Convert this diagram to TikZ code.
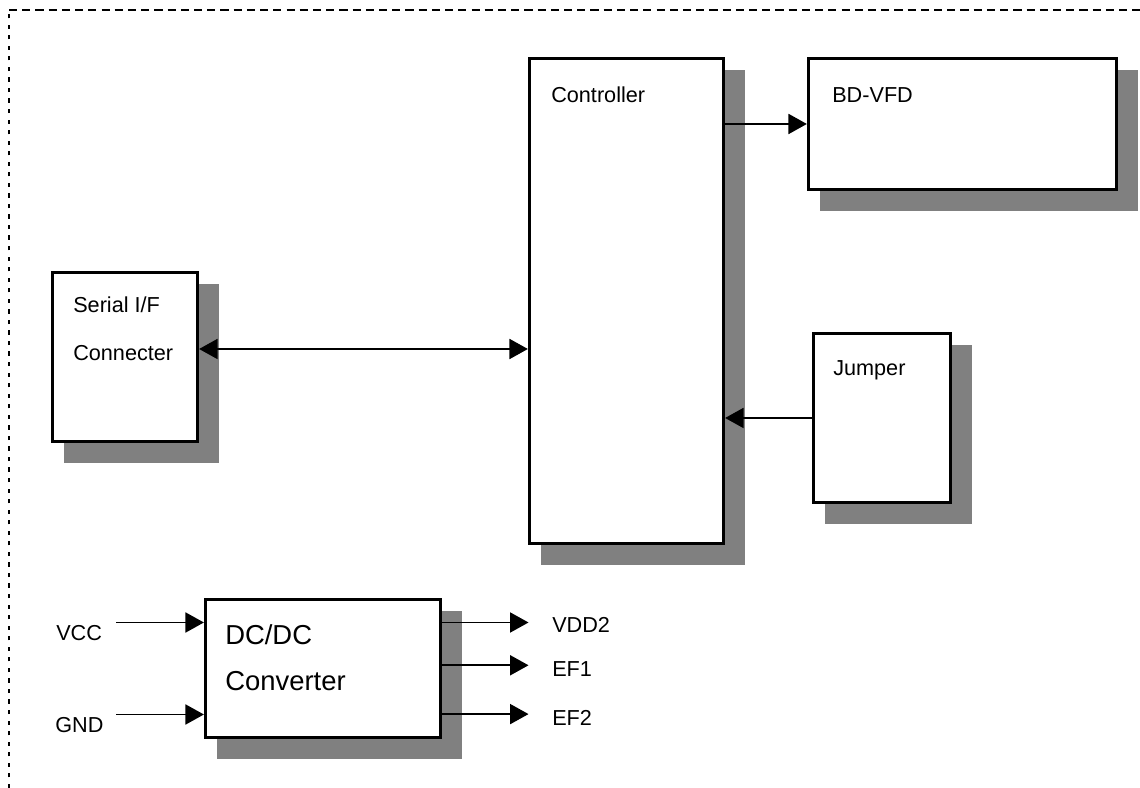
\documentclass[tikz,border=0pt]{standalone}
\usepackage{fontspec}
\setmainfont{Liberation Sans}
\usetikzlibrary{arrows.meta, positioning, calc, backgrounds}
\definecolor{shgray}{HTML}{808080}

\begin{document}
\begin{tikzpicture}[>={Triangle[length=4.6mm, width=5mm]},
  block/.style={draw, line width=2.3pt, fill=white, inner sep=0pt},
  lbl/.style={anchor=base west, inner sep=0pt, font=\fontsize{15.4}{18}\selectfont},
  biglbl/.style={anchor=base west, inner sep=0pt, font=\fontsize{19.5}{23}\selectfont},
  arr/.style={line width=1.2pt, ->}]

\useasboundingbox (0,0) rectangle (28.5,19.7);

% Frame (dashed, open at right and bottom)
\draw[line width=1.3pt, dash pattern=on 3pt off 4.5pt] (0.225,0) -- (0.225,19.45);
\draw[line width=1.3pt, dash pattern=on 5.8pt off 3.6pt] (0.225,19.45) -- (28.5,19.45);

% Blocks
\node[block, minimum width=3.625cm, minimum height=4.225cm] (serial) at (3.125,10.775) {};
\node[block, minimum width=4.85cm, minimum height=12.125cm] (ctrl) at (15.6625,12.175) {};
\node[block, minimum width=7.7cm, minimum height=3.275cm] (bdvfd) at (24.0625,16.6) {};
\node[block, minimum width=3.425cm, minimum height=4.225cm] (jumper) at (22.05,9.25) {};
\node[block, minimum width=5.875cm, minimum height=3.45cm] (dcdc) at (8.075,2.9875) {};

% Shadows
\begin{scope}[on background layer]
\foreach \b in {serial,ctrl,bdvfd,jumper,dcdc}
  \fill[shgray] ([shift={(0.34,-0.34)}]\b.north west) rectangle ([shift={(0.49,-0.49)}]\b.south east);
\end{scope}

% Block texts
\node[lbl] at (13.775,17.125) {Controller};
\node[lbl] at (20.8,17.125) {BD-VFD};
\node[lbl] at (1.825,11.875) {Serial I/F};
\node[lbl] at (1.825,10.675) {Connecter};
\node[lbl] at (20.825,10.3) {Jumper};
\node[biglbl] at (5.625,3.575) {DC/DC};
\node[biglbl] at (5.625,2.425) {Converter};

% Signals
\draw[arr] (ctrl.east |- bdvfd.west) -- (bdvfd.west);
\draw[line width=1.2pt, <->] ([yshift=2mm]serial.east) coordinate (sio) -- (sio -| ctrl.west);
\draw[arr] (jumper.west) -- (jumper.west -| ctrl.east);

% Power in / out
\draw[arr] ([xshift=-2.19cm, yshift=1.15cm]dcdc.west) -- ([yshift=1.15cm]dcdc.west);
\draw[arr] ([xshift=-2.19cm, yshift=-1.15cm]dcdc.west) -- ([yshift=-1.15cm]dcdc.west);
\foreach \dy in {1.15,0.08,-1.14}
  \draw[arr] ([yshift=\dy cm]dcdc.east) -- ++(2.16,0);

\node[lbl] at (1.4,3.675) {VCC};
\node[lbl] at (1.375,1.375) {GND};
\node[lbl] at (13.8,3.875) {VDD2};
\node[lbl] at (13.8,2.775) {EF1};
\node[lbl] at (13.8,1.55) {EF2};

\end{tikzpicture}
\end{document}
